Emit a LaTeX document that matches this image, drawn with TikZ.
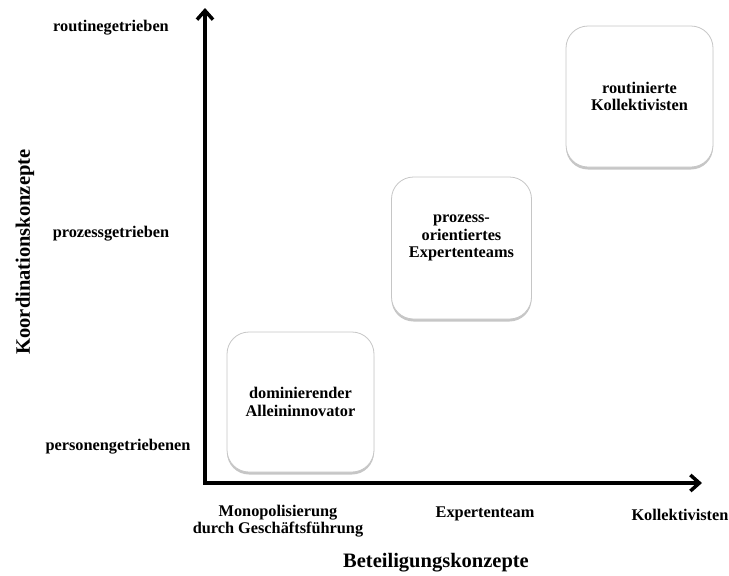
\documentclass[tikz,border=0pt]{standalone}
\usepackage{fontspec}
\setmainfont{Liberation Serif}
\usetikzlibrary{arrows.meta, shadows}
\tikzset{
	axis/.style={line width=3.5pt, line join=miter},
	quadrant/.style={draw=gray!45, line width=0.8pt, fill=white, rounded corners=22pt,
		minimum width=147pt, minimum height=140pt, inner sep=0pt,
		drop shadow={shadow xshift=0pt, shadow yshift=-2.5pt, opacity=0.45, fill=gray}},
	boxtext/.style={align=center, font=\fontsize{16.3}{17.5}\selectfont\bfseries},
	tick/.style={align=center, font=\fontsize{16.3}{17.5}\selectfont\bfseries},
	title/.style={font=\fontsize{20.5}{24}\selectfont\bfseries}
}
\begin{document}
\begin{tikzpicture}[x=1pt, y=-1pt]
		\useasboundingbox (0,0) rectangle (729,576);
		\coordinate(o)at(205, 483);
		\coordinate(ytip)at(205, 8);
		\coordinate(xtip)at(702, 483);
		\draw[axis, {Straight Barb[length=9pt, width=16pt]}-{Straight Barb[length=9pt, width=16pt]}](ytip)--(o)--(xtip);
		\node[title, rotate=90](ylabel)at(25, 252){Koordinationskonzepte};
		\node[title](xlabel)at(436, 563){Beteiligungskonzepte};
		\node[tick](yroutine)at(111, 28){routinegetrieben};
		\node[tick](yprozess)at(111, 234){prozessgetrieben};
		\node[tick](yperson)at(118, 447){personengetriebenen};
		\node[tick](xmono)at(278, 521){Monopolisierung\\durch Geschäftsführung};
		\node[tick](xexpert)at(485, 514){Expertenteam};
		\node[tick](xkollektiv)at(680, 515){Kollektivisten};
		\node[quadrant](allein)at(300.5, 402){};
		\node[quadrant, minimum width=140pt, minimum height=142pt](experten)at(461.5, 248){};
		\node[quadrant, minimum height=141pt](kollektiv)at(639.5, 96.5){};
		\node[boxtext](alleintext)at(allein.center){dominierender\\Alleininnovator};
		\node[boxtext](expertentext)at([yshift=10pt]experten.center){prozess-\\orientiertes\\Expertenteams};
		\node[boxtext](kollektivtext)at(kollektiv.center){routinierte\\Kollektivisten};
	\end{tikzpicture}
\end{document}
